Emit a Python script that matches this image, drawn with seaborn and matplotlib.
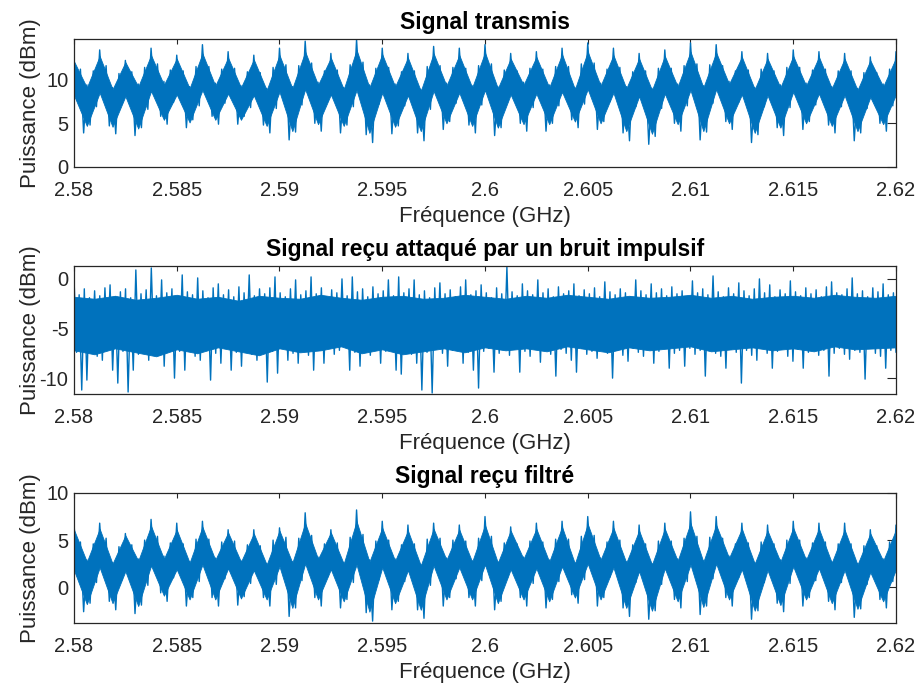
import numpy as np
import pandas as pd
import matplotlib
matplotlib.use("Agg")
import matplotlib.pyplot as plt
import seaborn as sns

# ---------------------------------------------------------------------------
# Frequency axis
# ---------------------------------------------------------------------------
f_start, f_stop = 2.58, 2.62
freq_ticks = [2.58, 2.585, 2.59, 2.595, 2.6, 2.605, 2.61, 2.615, 2.62]
freq_labels = ["2.58", "2.585", "2.59", "2.595", "2.6", "2.605", "2.61", "2.615", "2.62"]

# ---------------------------------------------------------------------------
# Transmitted signal (dBm), 32 ripples over the band.
# Dense band of the trace: its top and bottom at each ripple crest / trough.
# ---------------------------------------------------------------------------
tx_band_top_crest = [12.1, 12.7, 12.0, 12.8, 12.4, 13.0, 12.5, 12.3, 12.8, 13.2, 12.5, 13.4,
                     12.9, 12.5, 13.0, 12.8, 13.1, 12.4, 12.6, 12.9, 13.2, 12.8, 12.4, 12.7,
                     13.2, 13.1, 12.6, 12.4, 12.7, 12.6, 12.4, 12.2, 12.5]
tx_band_top_trough = [9.1, 8.9, 9.2, 9.4, 9.0, 9.3, 9.1, 8.8, 9.0, 9.4, 8.9, 9.1,
                      9.2, 8.7, 9.3, 9.1, 9.0, 9.4, 9.1, 8.9, 9.3, 9.0, 8.8, 9.2,
                      9.1, 9.5, 8.9, 9.1, 9.3, 9.0, 8.8, 9.2]
tx_band_bot_crest = [8.2, 8.5, 8.1, 8.7, 8.3, 8.8, 8.4, 8.2, 8.6, 8.9, 8.3, 8.8,
                     8.5, 8.2, 8.7, 8.5, 8.8, 8.3, 8.4, 8.6, 8.9, 8.5, 8.1, 8.4,
                     8.8, 8.9, 8.3, 8.2, 8.6, 8.4, 8.2, 8.0, 8.3]
tx_band_bot_trough = [4.7, 4.6, 4.4, 5.4, 5.1, 5.4, 5.4, 4.7, 4.1, 4.9, 4.7, 3.9,
                      4.6, 4.1, 5.0, 4.7, 4.5, 4.9, 4.9, 5.2, 5.0, 4.1, 3.8, 4.9,
                      4.1, 5.0, 3.9, 4.5, 5.0, 4.7, 4.1, 4.9]
# Spiky extremes of the trace, one value per eighth of a ripple.
tx_peak = [12.4, 13.4, 12.2, 13.6, 12.8, 14.0, 13.2, 12.8, 13.6, 14.4, 13.0, 14.6,
           13.6, 13.0, 13.8, 13.6, 14.0, 13.0, 13.2, 13.6, 14.2, 13.6, 13.0, 13.4,
           14.2, 14.0, 13.2, 13.0, 13.4, 13.2, 13.0, 12.6, 13.2]
tx_fall_hi = [11.2, 11.6, 10.9, 11.8, 11.0, 11.5, 11.3, 10.8, 11.7, 11.9, 11.1, 12.0,
              11.4, 11.0, 11.6, 11.3, 11.8, 11.0, 11.2, 11.5, 11.9, 11.4, 11.0, 11.3,
              11.8, 11.6, 11.1, 11.0, 11.4, 11.2, 11.0, 10.8]
tx_trough_hi = [9.4, 9.1, 9.5, 9.8, 9.2, 9.6, 9.3, 9.0, 9.2, 9.7, 9.1, 9.4,
                9.5, 8.9, 9.6, 9.3, 9.2, 9.7, 9.4, 9.1, 9.6, 9.2, 9.0, 9.5,
                9.3, 9.8, 9.1, 9.4, 9.6, 9.2, 9.0, 9.5]
tx_rise_hi = [11.0, 10.7, 11.4, 11.1, 11.5, 11.2, 10.9, 11.4, 11.6, 11.0, 11.7, 11.3,
              10.9, 11.5, 11.4, 11.6, 11.1, 11.3, 11.5, 11.8, 11.2, 10.9, 11.3, 11.6,
              11.7, 11.0, 11.2, 11.4, 11.1, 11.0, 10.8, 11.2]
tx_lo_a = [7.6, 8.2, 7.8, 8.4, 8.0, 8.5, 7.9, 7.7, 8.3, 8.6, 8.0, 8.4,
           8.1, 7.8, 8.3, 8.2, 8.5, 7.9, 8.0, 8.3, 8.6, 8.1, 7.7, 8.0,
           8.4, 8.5, 7.9, 7.8, 8.2, 8.0, 7.8, 7.6]
tx_lo_b = [3.9, 4.7, 3.6, 5.8, 4.5, 5.8, 4.9, 4.8, 3.1, 5.0, 3.9, 3.7,
           3.8, 3.9, 4.3, 4.8, 3.6, 5.0, 4.1, 5.4, 4.3, 3.9, 2.6, 5.0,
           3.1, 5.2, 2.8, 4.5, 4.3, 4.8, 3.0, 5.0]
tx_lo_c = [4.8, 3.8, 4.5, 4.9, 5.4, 4.9, 5.8, 3.9, 4.0, 4.1, 4.8, 2.8,
           4.7, 3.0, 5.2, 3.9, 4.5, 4.1, 5.0, 4.5, 5.2, 3.0, 3.5, 4.1,
           4.0, 4.3, 3.7, 3.6, 5.2, 3.9, 3.9, 4.1]
tx_lo_d = [6.9, 7.2, 6.6, 7.4, 7.0, 7.3, 6.8, 6.7, 7.1, 7.5, 6.9, 7.2,
           7.0, 6.6, 7.3, 7.1, 7.4, 6.8, 7.0, 7.2, 7.5, 6.9, 6.7, 7.0,
           7.3, 7.4, 6.9, 6.8, 7.1, 6.9, 6.7, 7.0]

# ---------------------------------------------------------------------------
# Received signal with impulsive noise (dBm): dense core of the trace plus
# the alternating upper / lower spikes.
# ---------------------------------------------------------------------------
rx_core_hi = [-1.8, -2.0, -1.7, -2.1, -1.9, -1.6, -2.0, -1.8, -2.2, -1.7, -1.9, -2.0, -1.6, -1.9,
              -2.1, -1.8, -1.7, -2.0, -1.9, -1.6, -1.8, -2.0, -1.7, -1.9, -1.6, -1.8, -2.0, -1.7,
              -1.9, -1.8, -1.6, -1.9, -1.7, -2.0, -1.8, -1.7, -1.9, -1.6, -1.8, -1.9, -1.7]
rx_core_lo = [-7.2, -7.6, -7.0, -7.4, -7.8, -7.1, -7.5, -6.9, -7.3, -7.7, -7.0, -7.4, -7.2, -6.8,
              -7.5, -7.1, -7.6, -7.3, -7.0, -7.4, -6.9, -7.2, -7.0, -7.3, -6.8, -7.1, -7.4, -6.9,
              -7.2, -7.0, -6.8, -7.3, -7.1, -6.9, -7.2, -7.0, -7.3, -6.8, -7.1, -7.0, -6.9]
rx_hi = [0.1, -1.6, -1.0, -1.9, -1.2, -1.7, -0.9, -0.6, -1.8, -1.3, -1.0, -1.9, 0.9, -1.5, -1.1, 1.1, -1.7, -0.1, -1.4, -1.0,
         -1.8, 0.4, -1.3, -1.6, 0.1, -1.2, -1.9, -0.9, -0.5, -1.6, -1.1, -1.8, -0.8, -1.4, 0.4, -1.7, -1.0, -1.5, -0.9, 0.2,
         -1.4, -1.8, -1.0, -0.1, -1.6, -1.2, 0.2, -1.5, -0.9, -1.8, -1.1, -1.4, 0.0, -1.7, 0.2, -1.3, -1.0, -1.8, -0.8, -1.5,
         -1.2, -0.1, -1.7, 0.2, -1.4, -1.0, -0.1, -1.6, -1.2, -1.9, -0.9, -0.4, -1.5, -1.1, -1.8, -0.8, -0.1, -1.6, -1.2, -0.6,
         -1.4, -1.9, -0.9, -1.5, 1.2, -1.3, -1.7, -0.5, -1.2, -1.6, -0.1, -1.4, -1.0, -1.8, -0.8, -1.5, -1.2, -0.5, -1.7, -1.1,
         -1.5, -0.9, -1.8, -0.3, -1.3, -1.6, -1.0, -1.4, -1.8, -0.1, -1.2, -1.6, -0.5, -1.4, -1.0, -1.7, -0.8, -1.5, -1.2, -1.8,
         -0.2, -1.4, -1.0, -1.6, 0.3, -1.3, -1.8, -0.9, -1.5, -0.4, -1.2, -1.7, -1.0, 0.0, -1.4, -0.6, -1.8, -1.1, -1.5, -0.2,
         -1.3, -1.7, -0.9, -1.5, -1.1, -1.8, -0.8, -0.3, -1.4, -1.6, -1.0, 0.1, -1.5, -1.2, -1.8, -0.9, -1.3, -0.5, -1.6, -1.4]
rx_lo = [-7.4, -11.2, -10.2, -7.0, -7.8, -8.2, -6.9, -9.2, -10.5, -7.3, -11.4, -9.2, -7.6, -6.8, -8.2, -7.1, -7.7, -8.8, -7.0, -10.0,
         -7.3, -9.2, -6.9, -7.8, -8.2, -7.2, -10.2, -7.5, -8.5, -6.8, -9.2, -7.4, -8.8, -7.0, -7.6, -8.2, -7.1, -10.4, -7.3, -9.5,
         -7.0, -8.2, -7.5, -8.5, -6.9, -7.7, -9.2, -7.2, -8.5, -7.0, -7.6, -7.2, -6.8, -9.2, -7.4, -8.8, -7.1, -7.7, -7.0, -8.5,
         -7.3, -6.9, -9.2, -9.6, -7.2, -7.6, -8.5, -11.2, -7.4, -11.5, -7.0, -7.5, -8.8, -7.2, -6.9, -8.5, -7.4, -9.2, -11.0, -7.3,
         -7.0, -9.4, -7.5, -7.1, -7.7, -6.9, -9.4, -7.3, -7.8, -7.0, -8.4, -7.2, -7.6, -9.8, -7.1, -7.5, -8.2, -9.4, -7.0, -7.6,
         -7.3, -8.0, -6.9, -7.5, -10.0, -7.2, -7.7, -8.3, -7.0, -7.4, -7.8, -7.1, -8.5, -7.3, -6.9, -9.0, -7.5, -7.2, -8.8, -7.0,
         -7.6, -7.2, -9.8, -7.0, -7.5, -7.8, -9.0, -7.1, -7.4, -10.5, -7.2, -7.7, -8.2, -7.0, -7.5, -9.0, -7.3, -6.9, -7.8, -8.3,
         -7.1, -9.0, -7.4, -7.0, -7.7, -7.2, -9.8, -7.5, -7.0, -7.6, -8.1, -7.2, -7.4, -10.1, -7.0, -7.5, -7.8, -9.0, -7.2, -7.4]

# ---------------------------------------------------------------------------
# Filtered received signal (dBm), same layout as the transmitted one.
# ---------------------------------------------------------------------------
flt_band_top_crest = [6.1, 6.2, 5.5, 6.5, 6.1, 6.4, 5.8, 5.7, 6.0, 6.8, 5.8, 7.0,
                      6.3, 6.0, 6.2, 6.1, 6.6, 6.0, 6.2, 6.4, 6.7, 6.3, 6.0, 6.2,
                      6.8, 6.6, 6.2, 6.0, 6.3, 6.2, 6.1, 5.7, 6.1]
flt_band_top_trough = [2.7, 2.5, 2.8, 3.0, 2.6, 2.9, 2.7, 2.4, 2.6, 3.0, 2.5, 2.7,
                       2.8, 2.3, 2.9, 2.7, 2.6, 3.0, 2.7, 2.5, 2.9, 2.6, 2.4, 2.8,
                       2.7, 3.1, 2.5, 2.7, 2.9, 2.6, 2.4, 2.8]
flt_band_bot_crest = [1.8, 2.1, 1.7, 2.3, 1.9, 2.4, 2.0, 1.8, 2.2, 2.5, 1.9, 2.4,
                      2.1, 1.8, 2.3, 2.1, 2.4, 1.9, 2.0, 2.2, 2.5, 2.1, 1.7, 2.0,
                      2.4, 2.5, 1.9, 1.8, 2.2, 2.0, 1.8, 1.6, 1.9]
flt_band_bot_trough = [-1.8, -1.7, -2.0, -0.9, -1.3, -1.3, -1.2, -1.3, -2.2, -1.3, -1.5, -2.6,
                       -1.7, -2.4, -1.3, -1.3, -1.7, -1.3, -1.5, -1.1, -1.3, -2.2, -2.5, -1.5,
                       -2.1, -1.3, -2.5, -1.9, -1.3, -1.7, -2.3, -1.5]
flt_peak = [6.8, 6.8, 5.7, 7.2, 6.8, 7.0, 6.1, 6.1, 6.3, 7.9, 6.1, 8.2,
            7.0, 6.6, 6.8, 6.6, 7.5, 6.4, 6.8, 7.0, 7.5, 7.0, 6.6, 6.8,
            8.0, 7.5, 6.8, 6.6, 7.0, 6.8, 6.8, 6.1, 6.6]
flt_fall_hi = [4.8, 5.2, 4.5, 5.4, 4.6, 5.1, 4.9, 4.4, 5.3, 5.5, 4.7, 5.6,
               5.0, 4.6, 5.2, 4.9, 5.4, 4.6, 4.8, 5.1, 5.5, 5.0, 4.6, 4.9,
               5.4, 5.2, 4.7, 4.6, 5.0, 4.8, 4.6, 4.4]
flt_trough_hi = [2.9, 2.6, 3.0, 3.3, 2.7, 3.1, 2.8, 2.5, 2.7, 3.2, 2.6, 2.9,
                 3.0, 2.4, 3.1, 2.8, 2.7, 3.2, 2.9, 2.6, 3.1, 2.7, 2.5, 3.0,
                 2.8, 3.3, 2.6, 2.9, 3.1, 2.7, 2.5, 3.0]
flt_rise_hi = [4.6, 4.3, 5.0, 4.7, 5.1, 4.8, 4.5, 5.0, 5.2, 4.6, 5.3, 4.9,
               4.5, 5.1, 5.0, 5.2, 4.7, 4.9, 5.1, 5.4, 4.8, 4.5, 4.9, 5.2,
               5.3, 4.6, 4.8, 5.0, 4.7, 4.6, 4.4, 4.8]
flt_lo_a = [1.2, 1.8, 1.4, 2.0, 1.6, 2.1, 1.5, 1.3, 1.9, 2.2, 1.6, 2.0,
            1.7, 1.4, 1.9, 1.8, 2.1, 1.5, 1.6, 1.9, 2.2, 1.7, 1.3, 1.6,
            2.0, 2.1, 1.5, 1.4, 1.8, 1.6, 1.4, 1.2]
flt_lo_b = [-2.6, -1.5, -2.8, -0.6, -2.0, -1.1, -1.9, -1.1, -3.1, -1.1, -2.2, -2.7,
            -2.4, -2.4, -2.0, -1.1, -2.4, -1.1, -2.2, -0.8, -2.0, -2.2, -3.4, -1.3,
            -2.9, -1.1, -3.4, -1.7, -2.0, -1.5, -3.2, -1.3]
flt_lo_c = [-1.7, -2.4, -1.9, -1.5, -1.1, -2.0, -1.0, -2.0, -2.2, -2.0, -1.3, -3.6,
            -1.5, -3.3, -1.1, -2.0, -1.5, -2.0, -1.3, -1.7, -1.1, -3.1, -2.5, -2.2,
            -2.0, -2.0, -2.5, -2.6, -1.1, -2.4, -2.3, -2.2]
flt_lo_d = [0.5, 0.8, 0.2, 1.0, 0.6, 0.9, 0.4, 0.3, 0.7, 1.1, 0.5, 0.8,
            0.6, 0.2, 0.9, 0.7, 1.0, 0.4, 0.6, 0.8, 1.1, 0.5, 0.3, 0.6,
            0.9, 1.0, 0.5, 0.4, 0.7, 0.5, 0.3, 0.6]

titles = ["Signal transmis",
          "Signal reçu attaqué par un bruit impulsif",
          "Signal reçu filtré"]
y_limits = [(0, 14.65), (-11.6, 1.3), (-3.8, 10)]
y_ticks = [[0, 5, 10], [-10, -5, 0], [0, 5, 10]]


def interleave(a, b):
    out = np.empty(len(a) + len(b))
    out[0::2] = a
    out[1::2] = b
    return out


def ripple_trace(peak, fall_hi, trough_hi, rise_hi, lo_a, lo_b, lo_c, lo_d):
    """Interleave the per-ripple extremes into one trace (8 points per ripple)."""
    n = 8 * len(fall_hi) + 1
    y = np.empty(n)
    y[0::8] = peak
    y[1::8] = lo_a
    y[2::8] = fall_hi
    y[3::8] = lo_b
    y[4::8] = trough_hi
    y[5::8] = lo_c
    y[6::8] = rise_hi
    y[7::8] = lo_d
    return pd.DataFrame({"freq": np.linspace(f_start, f_stop, n), "power": y})


def noise_trace(hi, lo):
    y = interleave(hi, lo)
    return pd.DataFrame({"freq": np.linspace(f_start, f_stop, y.size), "power": y})


def ripple_band(top_crest, top_trough, bot_crest, bot_trough):
    top = interleave(top_crest, top_trough)
    bot = interleave(bot_crest, bot_trough)
    return np.linspace(f_start, f_stop, top.size), bot, top


panels = [
    (ripple_trace(tx_peak, tx_fall_hi, tx_trough_hi, tx_rise_hi,
                  tx_lo_a, tx_lo_b, tx_lo_c, tx_lo_d),
     ripple_band(tx_band_top_crest, tx_band_top_trough,
                 tx_band_bot_crest, tx_band_bot_trough)),
    (noise_trace(rx_hi, rx_lo),
     (np.linspace(f_start, f_stop, len(rx_core_hi)), np.array(rx_core_lo), np.array(rx_core_hi))),
    (ripple_trace(flt_peak, flt_fall_hi, flt_trough_hi, flt_rise_hi,
                  flt_lo_a, flt_lo_b, flt_lo_c, flt_lo_d),
     ripple_band(flt_band_top_crest, flt_band_top_trough,
                 flt_band_bot_crest, flt_band_bot_trough)),
]

# ---------------------------------------------------------------------------
# Figure
# ---------------------------------------------------------------------------
sns.set_style("white")
plt.rcParams["font.family"] = ["Liberation Sans", "DejaVu Sans"]
plt.rcParams["axes.unicode_minus"] = False

W, H = 919, 684
fig = plt.figure(figsize=(W / 100, H / 100), dpi=100)
fig.patch.set_facecolor("white")

# axes boxes in pixels: (left, top, right, bottom)
boxes = [(74, 39, 896, 167), (74, 266, 896, 394), (74, 493, 896, 623)]
line_color = "#0072BD"
ink = "#262626"

for box, (df, band), title, ylim, yt in zip(boxes, panels, titles, y_limits, y_ticks):
    l, t, r, b = box
    ax = fig.add_axes([l / W, 1 - b / H, (r - l) / W, (b - t) / H])

    # dense part of the trace
    bx, blo, bhi = band
    ax.fill_between(bx, blo, bhi, color=line_color, linewidth=0.6, zorder=1)
    # the trace itself, whose spikes stick out of the dense part
    sns.lineplot(data=df, x="freq", y="power", ax=ax, color=line_color,
                 linewidth=1.0, estimator=None, sort=False, legend=False, zorder=2)

    ax.set_xlim(f_start, f_stop)
    ax.set_ylim(*ylim)
    ax.set_xticks(freq_ticks)
    ax.set_xticklabels(freq_labels)
    ax.set_yticks(yt)
    ax.set_yticklabels([str(v) for v in yt])
    ax.tick_params(axis="both", direction="in", top=True, right=True,
                   labelsize=14.5, color=ink, labelcolor=ink, width=0.8)
    ax.tick_params(axis="x", length=3.5, pad=10)
    ax.tick_params(axis="y", length=6.5, pad=4)
    for s in ax.spines.values():
        s.set_visible(True)
        s.set_color(ink)
        s.set_linewidth(0.9)
        s.set_zorder(3)
    ax.set_xlabel("Fréquence (GHz)", fontsize=16, color=ink)
    ax.set_ylabel("Puissance (dBm)", fontsize=16, color=ink)
    h = b - t
    ax.xaxis.set_label_coords(0.5, -39 / h)
    ax.yaxis.set_label_coords(-33 / (r - l), 0.5)
    ax.set_title(title, fontsize=16.5, fontweight="bold", color="black", pad=7)
    ax.grid(False)

fig.savefig("out.png", dpi=100, facecolor="white")
